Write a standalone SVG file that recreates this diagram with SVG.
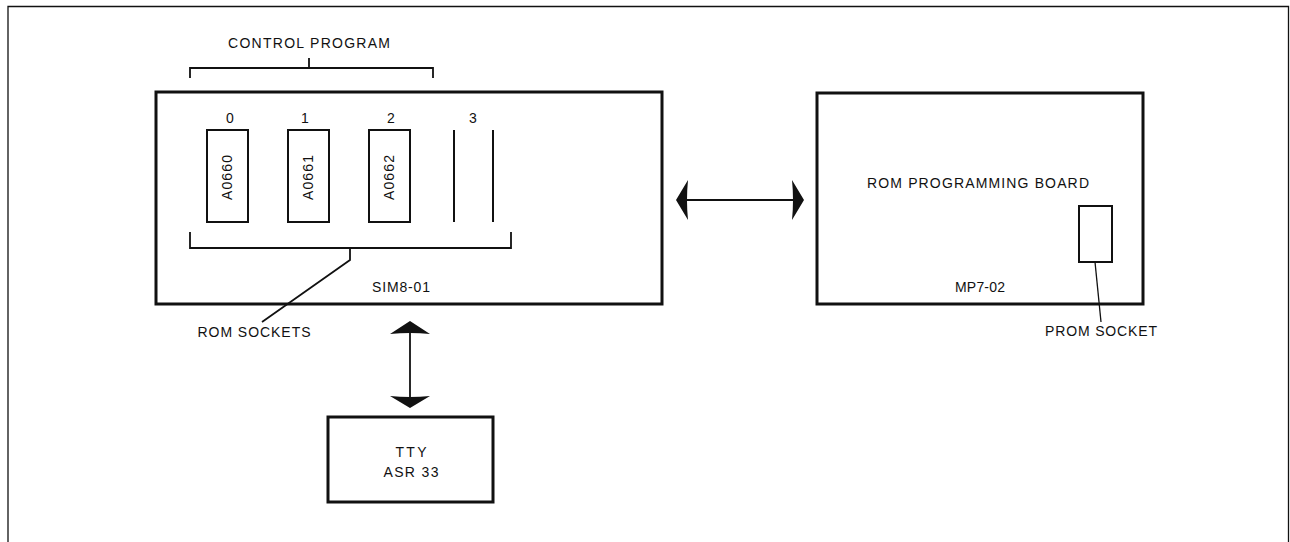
<svg xmlns="http://www.w3.org/2000/svg" width="1290" height="542" viewBox="0 0 1290 542">
<style>
text{font-family:"Liberation Sans",Arial,sans-serif;fill:#111;font-size:14px;text-anchor:middle}
.box{fill:none;stroke:#111;stroke-width:3}
.chip{fill:none;stroke:#111;stroke-width:2}
.ln{fill:none;stroke:#111;stroke-width:1.8}
.thin{fill:none;stroke:#111;stroke-width:1.3}
.head{fill:#111;stroke:none}
</style>
<rect x="0" y="0" width="1290" height="542" fill="#fff"/>
<path class="thin" d="M8,542 V6.5 H1288.5 V542"/>
<g id="sim8-01">
<rect class="box" x="156" y="92" width="506" height="212"/>
<text x="401" y="292" textLength="58">SIM8-01</text>
</g>
<g id="control-program">
<path class="ln" d="M190,78 V68 H433 V78 M309,68 V58"/>
<text x="309" y="48" font-size="15" textLength="162">CONTROL PROGRAM</text>
</g>
<g id="socket0">
<rect class="chip" x="207" y="130" width="41" height="92"/>
<text x="230" y="123">0</text>
<text transform="translate(232,177.5) rotate(-90)" textLength="45">A0660</text>
</g>
<g id="socket1">
<rect class="chip" x="288" y="130" width="41" height="92"/>
<text x="305" y="123">1</text>
<text transform="translate(313,177.5) rotate(-90)" textLength="45">A0661</text>
</g>
<g id="socket2">
<rect class="chip" x="369" y="130" width="41" height="92"/>
<text x="391" y="123">2</text>
<text transform="translate(394,177.5) rotate(-90)" textLength="45">A0662</text>
</g>
<g id="socket3">
<path class="chip" d="M454,130 V222 M493,130 V222"/>
<text x="473" y="123">3</text>
</g>
<g id="rom-sockets">
<path class="ln" d="M190,232 V248 H511 V232 M350,248 V260 L262,322"/>
<text x="254" y="337" textLength="113">ROM SOCKETS</text>
</g>
<g id="mp7-02">
<rect class="box" x="817" y="93" width="326" height="211"/>
<text x="978" y="188" textLength="222">ROM PROGRAMMING BOARD</text>
<text x="980" y="292" textLength="50">MP7-02</text>
</g>
<g id="prom-socket">
<rect class="chip" x="1079" y="206" width="33" height="56"/>
<path class="thin" d="M1095,262 L1101,322"/>
<text x="1101" y="336" textLength="112">PROM SOCKET</text>
</g>
<g id="tty">
<rect class="box" x="328" y="417" width="165" height="85"/>
<text x="411" y="457" textLength="31">TTY</text>
<text x="411" y="477" textLength="55">ASR 33</text>
</g>
<g id="connectors">
<path class="ln" stroke-width="2.5" d="M684,200 H796"/>
<path class="head" d="M676,200 L688,180 Q686,200 688,220 Z"/>
<path class="head" d="M804,200 L792,180 Q794,200 792,220 Z"/>
<path class="ln" stroke-width="2.5" d="M410,328 V402"/>
<path class="head" d="M410,321 L390,334 Q410,332 430,334 Z"/>
<path class="head" d="M410,408 L390,396 Q410,398 430,396 Z"/>
</g>
</svg>
